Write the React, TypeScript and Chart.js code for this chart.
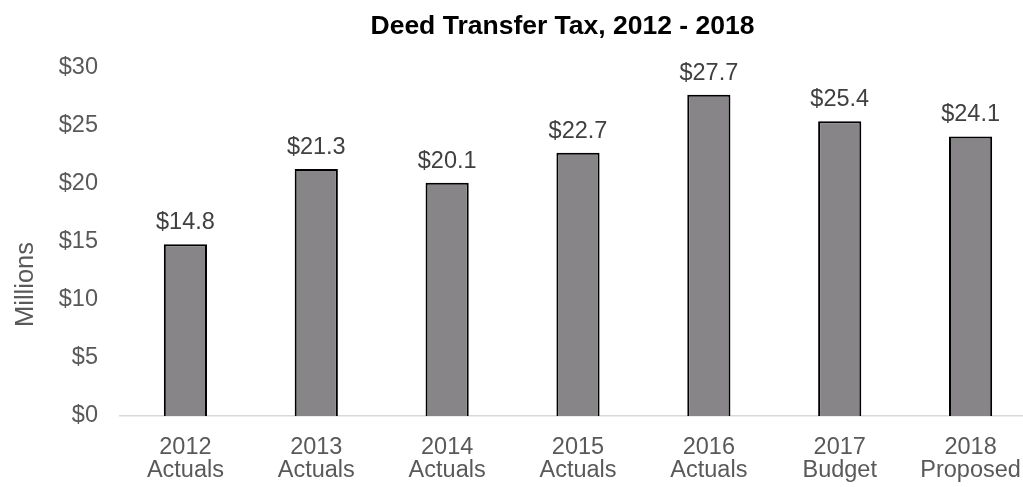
import React, { useEffect, useRef } from "react";
import { Chart, registerables } from "chart.js";

Chart.register(...registerables);

const title = "Deed Transfer Tax, 2012 - 2018";
const yTitle = "Millions";
const categories: string[][] = [
  ["2012", "Actuals"],
  ["2013", "Actuals"],
  ["2014", "Actuals"],
  ["2015", "Actuals"],
  ["2016", "Actuals"],
  ["2017", "Budget"],
  ["2018", "Proposed"],
];
const values: number[] = [14.8, 21.3, 20.1, 22.7, 27.7, 25.4, 24.1];
const yTicks: number[] = [0, 5, 10, 15, 20, 25, 30];

const FONT = "'Liberation Sans', Arial, sans-serif";

const decorPlugin = {
  id: "decor",
  afterDatasetsDraw(chart: any) {
    const ctx = chart.ctx;
    const meta = chart.getDatasetMeta(0);
    ctx.save();
    // data labels
    ctx.font = `23.5px ${FONT}`;
    ctx.fillStyle = "#404040";
    ctx.textAlign = "center";
    ctx.textBaseline = "alphabetic";
    meta.data.forEach((bar: any, i: number) => {
      ctx.fillText("$" + values[i].toFixed(1), bar.x, bar.y - 15);
    });
    // chart title
    ctx.font = `bold 26.5px ${FONT}`;
    ctx.fillStyle = "#000000";
    ctx.fillText(title, 562.5, 34);
    // y axis title
    ctx.font = `25.5px ${FONT}`;
    ctx.fillStyle = "#595959";
    ctx.translate(33, 284.5);
    ctx.rotate(-Math.PI / 2);
    ctx.fillText(yTitle, 0, 0);
    ctx.restore();
  },
};

export default function App() {
  const ref = useRef<HTMLCanvasElement | null>(null);
  useEffect(() => {
    document.body.style.margin = "0";
    if (!ref.current) return;
    const chart = new Chart(ref.current, {
      type: "bar",
      data: {
        labels: categories,
        datasets: [
          {
            data: values,
            backgroundColor: "#878587",
            borderColor: "#000000",
            borderWidth: 2,
            barPercentage: 0.33,
            categoryPercentage: 1,
          },
        ],
      },
      options: {
        responsive: false,
        animation: false,
        layout: { padding: { left: 0, right: 0, top: 68, bottom: 0 } },
        plugins: {
          legend: { display: false },
          tooltip: { enabled: false },
          title: { display: false },
        },
        scales: {
          x: {
            grid: { display: false },
            border: { display: true, color: "#d9d9d9", width: 1.5 },
            ticks: {
              color: "#595959",
              font: { family: FONT, size: 23.5, lineHeight: "23px" },
              padding: 12,
              maxRotation: 0,
              autoSkip: false,
            },
            afterFit(scale: any) {
              scale.height = 71;
            },
          },
          y: {
            min: 0,
            max: 30,
            afterBuildTicks(scale: any) {
              scale.ticks = yTicks.map((v) => ({ value: v }));
            },
            grid: { display: false },
            border: { display: false },
            ticks: {
              color: "#595959",
              font: { family: FONT, size: 23.5 },
              padding: 14,
              callback: (v: any) => "$" + v,
            },
            afterFit(scale: any) {
              scale.width = 120;
            },
          },
        },
      },
      plugins: [decorPlugin],
    });
    return () => chart.destroy();
  }, []);
  return (
    <div style={{ width: 1023, height: 487, overflow: "hidden", position: "relative" }}>
      <canvas ref={ref} width={1036} height={487} style={{ display: "block" }} />
    </div>
  );
}
